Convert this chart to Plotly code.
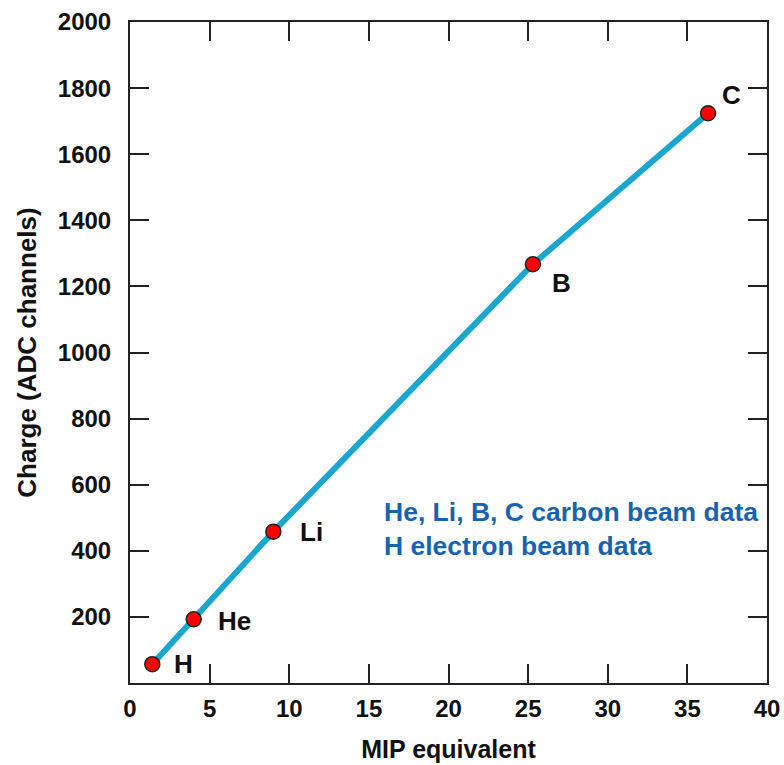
import plotly.graph_objects as go

elements = ["H", "He", "Li", "B", "C"]
mip = [1.4, 4.0, 9.0, 25.3, 36.3]
charge = [57, 193, 458, 1267, 1724]
label_shift_x = [20, 22, 25, 17, 12]
label_shift_y = [0, -2, 0, -19, 18]
x_ticks = [0, 5, 10, 15, 20, 25, 30, 35, 40]
y_ticks = [200, 400, 600, 800, 1000, 1200, 1400, 1600, 1800, 2000]

FONT = "Liberation Sans Narrow, Arial Narrow, Liberation Sans, Arial"

fig = go.Figure()
fig.add_trace(go.Scatter(
    x=mip, y=charge, mode="lines",
    line=dict(color="#1ba6cf", width=6),
    showlegend=False, hoverinfo="skip"))
fig.add_trace(go.Scatter(
    x=mip, y=charge, mode="markers",
    marker=dict(color="#ff0000", size=15, line=dict(color="#222222", width=1.5)),
    showlegend=False))

for e, xv, yv, sx, sy in zip(elements, mip, charge, label_shift_x, label_shift_y):
    fig.add_annotation(x=xv, y=yv, text=f"<b>{e}</b>", showarrow=False,
                       xanchor="left", yanchor="middle", xshift=sx, yshift=sy,
                       font=dict(family="Liberation Sans, Arial", size=26, color="#111111"))

fig.add_annotation(xref="paper", yref="paper", x=0.395, y=0.285,
                   text="<b>He, Li, B, C carbon beam data</b><br><b>H electron beam data</b>",
                   showarrow=False, xanchor="left", yanchor="top", align="left",
                   font=dict(family=FONT, size=26.5, color="#1763ad"))

axis_common = dict(showline=True, linecolor="#222222", linewidth=2, mirror="ticks",
                   ticks="inside", ticklen=19, tickwidth=2, tickcolor="#222222",
                   showgrid=False, zeroline=False, automargin=False,
                   tickfont=dict(family=FONT, size=24, color="#111111"))

fig.update_xaxes(range=[0, 40], tickvals=x_ticks, ticktext=[f"<b>{v}</b>" for v in x_ticks],
                 ticklabelstandoff=3,
                 title=dict(text="<b>MIP equivalent</b>", font=dict(family=FONT, size=25, color="#111111"), standoff=20),
                 **axis_common)
fig.update_yaxes(range=[0, 2000], tickvals=y_ticks, ticktext=[f"<b>{v}</b>" for v in y_ticks],
                 ticklabelstandoff=12,
                 title=dict(text="<b>Charge (ADC channels)</b>", font=dict(family=FONT, size=26, color="#111111"), standoff=14),
                 **axis_common)

fig.update_layout(width=784, height=765, margin=dict(l=130, r=17, t=22, b=82),
                  plot_bgcolor="white", paper_bgcolor="white")

fig.write_html("out.html", config={"displayModeBar": False},
               post_script="document.body.style.margin='0px';")
